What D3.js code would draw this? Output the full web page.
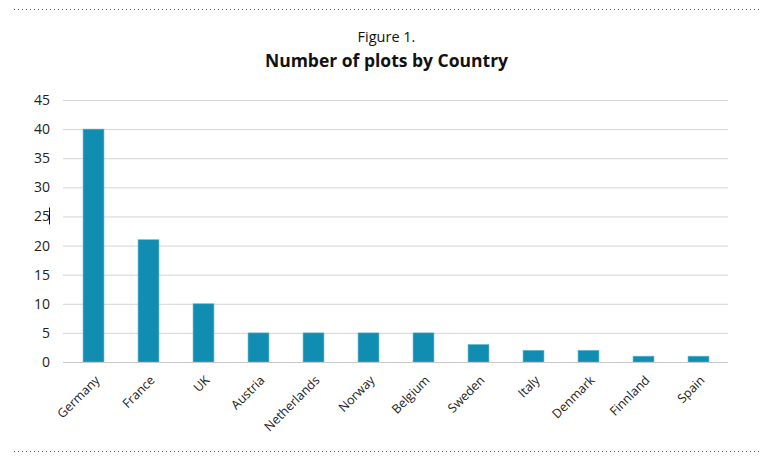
<!DOCTYPE html>
<html>
<head>
<meta charset="utf-8">
<title>Number of plots by Country</title>
<style type="text/css">
body {
  margin: 0;
  background: #fff;
  font-family: "Open Sans", "Noto Sans", sans-serif;
}
.grid line {
  stroke: #d4d4d4;
  stroke-width: 1;
}
.grid .domain {
  display: none;
}
.bar {
  fill: #118db2;
  stroke: #5fb5cf;
  stroke-width: 0.6;
}
.tick text {
  fill: #222;
}
</style>
</head>
<body>
<div id="chart"></div>

<script src="https://d3js.org/d3.v7.min.js"></script>
<script>

// chart data
var countries = ["Germany", "France", "UK", "Austria", "Netherlands", "Norway",
                 "Belgium", "Sweden", "Italy", "Denmark", "Finnland", "Spain"];
var plots = [40, 21, 10, 5, 5, 5, 5, 3, 2, 2, 1, 1];
var yTicks = [0, 5, 10, 15, 20, 25, 30, 35, 40, 45];

var width = 773, height = 463;
var margin = {top: 100, right: 45, bottom: 101, left: 63};
var innerW = width - margin.left - margin.right,
    innerH = height - margin.top - margin.bottom;

var svg = d3.select("#chart").append("svg")
    .attr("width", width)
    .attr("height", height);

// dotted frame lines top and bottom
[9.5, 451.5].forEach(function(y) {
  svg.append("line")
      .attr("x1", 14).attr("x2", 759)
      .attr("y1", y).attr("y2", y)
      .style("stroke", "#555")
      .style("stroke-width", 1)
      .style("stroke-dasharray", "1,3");
});

svg.append("text")
    .attr("x", width / 2)
    .attr("y", 42)
    .attr("text-anchor", "middle")
    .style("font-size", "14.5px")
    .style("fill", "#111")
    .text("Figure 1.");

svg.append("text")
    .attr("x", width / 2)
    .attr("y", 67)
    .attr("text-anchor", "middle")
    .style("font-size", "17.5px")
    .style("font-weight", "bold")
    .style("fill", "#111")
    .text("Number of plots by Country");

var g = svg.append("g")
    .attr("transform", "translate(" + margin.left + "," + margin.top + ")");

var xScale = d3.scaleBand()
    .domain(countries)
    .range([3, innerW - 2])
    .paddingInner(0.62)
    .paddingOuter(0.31);

var yScale = d3.scaleLinear()
    .domain([0, 45])
    .range([innerH, 0]);

// gridlines + y labels
var yAxis = g.append("g")
    .attr("class", "grid")
    .call(d3.axisLeft(yScale)
        .tickValues(yTicks)
        .tickSize(-innerW)
        .tickPadding(13));

yAxis.selectAll(".tick text")
    .style("font-size", "14px")
    .style("font-family", "'Open Sans', sans-serif");

// stray text cursor next to 25, as in the original
var t25 = yScale(25);
g.append("line")
    .attr("x1", -13.5).attr("x2", -13.5)
    .attr("y1", t25 - 9).attr("y2", t25 + 8)
    .style("stroke", "#111")
    .style("stroke-width", 1);

g.selectAll(".bar")
    .data(plots)
  .enter().append("rect")
    .attr("class", "bar")
    .attr("x", function(d, i) { return xScale(countries[i]); })
    .attr("y", function(d) { return yScale(d); })
    .attr("width", xScale.bandwidth())
    .attr("height", function(d) { return innerH - yScale(d); });

// x axis labels rotated
var xAxis = g.append("g")
    .attr("transform", "translate(0," + innerH + ")")
    .call(d3.axisBottom(xScale).tickSize(0).tickPadding(0));

xAxis.select(".domain").remove();

xAxis.selectAll(".tick text")
    .style("font-size", "12.5px")
    .style("font-family", "'Open Sans', sans-serif")
    .attr("text-anchor", "end")
    .attr("dy", null)
    .attr("transform", "translate(7,19) rotate(-45)");

// baseline on top of bars
g.append("line")
    .attr("x1", 0).attr("x2", innerW)
    .attr("y1", innerH + 0.5).attr("y2", innerH + 0.5)
    .style("stroke", "#c8c8c8");

</script>
</body>
</html>
